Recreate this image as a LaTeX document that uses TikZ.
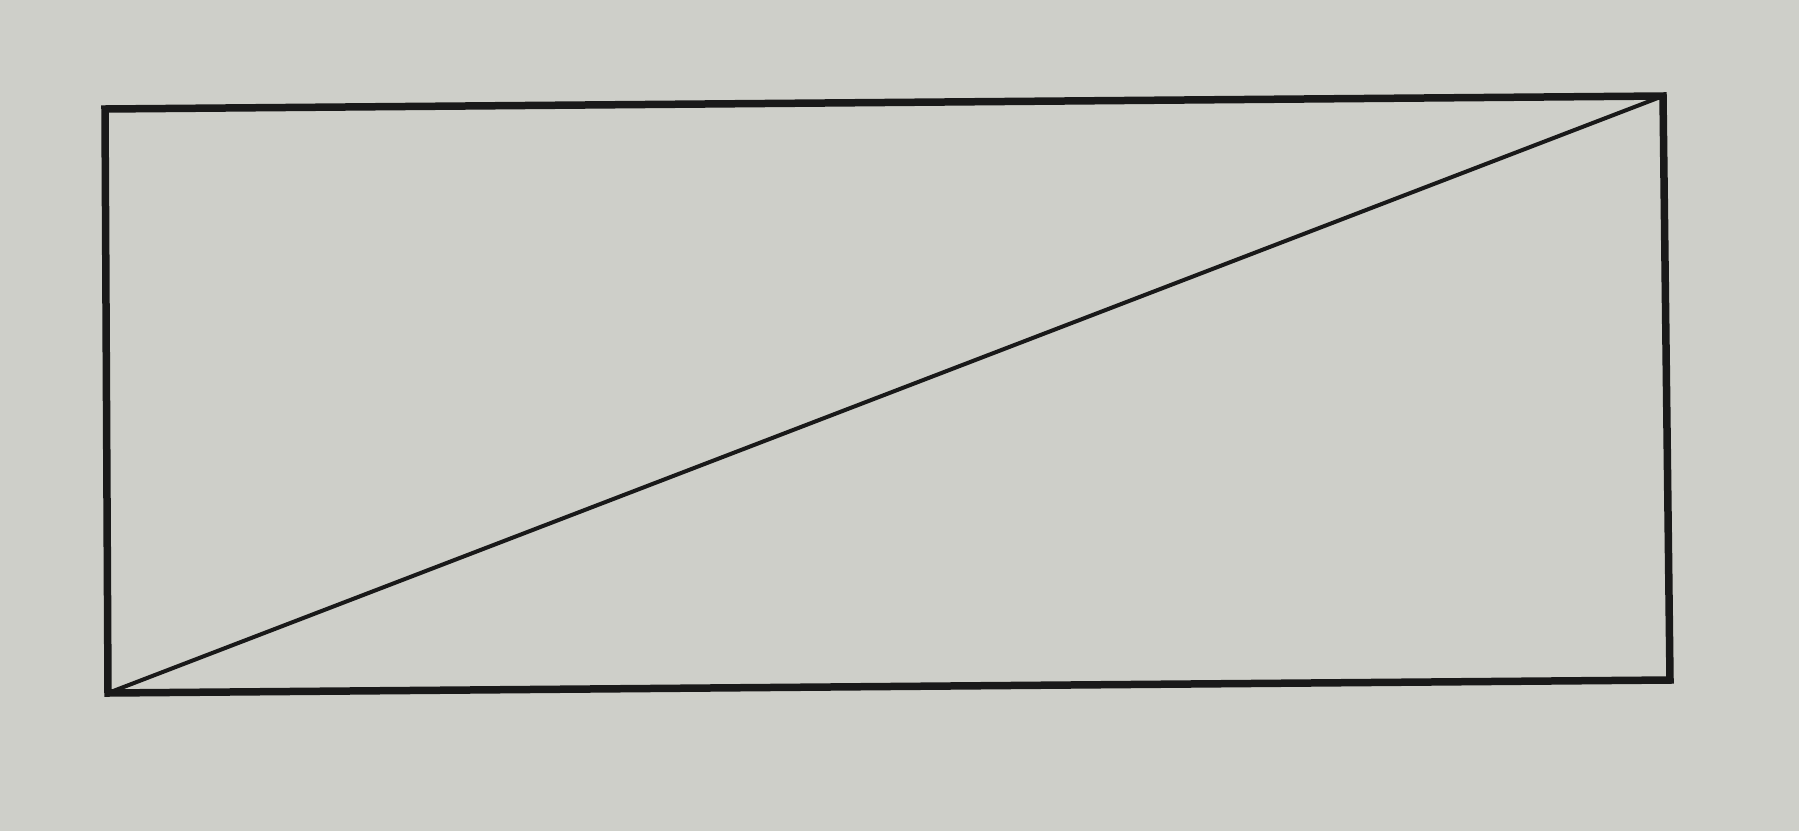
\documentclass[tikz,border=0pt]{standalone}
\begin{document}
\begin{tikzpicture}[x=1pt,y=-1pt,
  edge/.style={draw=black!90, line width=7.5pt, line join=miter},
  diag/.style={draw=black!90, line width=4pt}]
\fill[fill={rgb,255:red,206;green,207;blue,201}] (0,0) rectangle (1799,831);
\useasboundingbox (0,0) rectangle (1799,831);
\coordinate (TL) at (105,109);
\coordinate (TR) at (1663,96);
\coordinate (BR) at (1670,680);
\coordinate (BL) at (108,693);
\draw[edge] (TL) -- (TR) -- (BR) -- (BL) -- cycle;
\draw[diag] (BL) -- (TR);
\end{tikzpicture}
\end{document}
